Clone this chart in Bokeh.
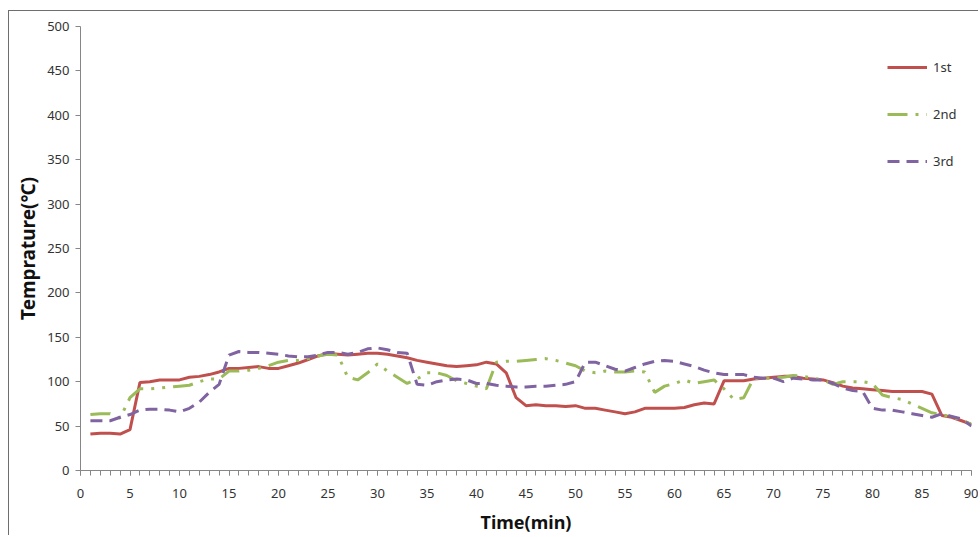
from bokeh.plotting import figure
from bokeh.models import Range1d, SingleIntervalTicker, Legend, LegendItem
from bokeh.embed import file_html
from bokeh.resources import INLINE

time_min = list(range(1, 91))

first = [41, 42, 42, 41, 46, 99, 100, 102, 102, 102,
         105, 106, 108, 111, 115, 115, 116, 117, 115, 115,
         118, 121, 125, 129, 132, 131, 130, 131, 132, 132,
         131, 129, 127, 124, 122, 120, 118, 117, 118, 119,
         122, 120, 110, 82, 73, 74, 73, 73, 72, 73,
         70, 70, 68, 66, 64, 66, 70, 70, 70, 70,
         71, 74, 76, 75, 101, 101, 101, 103, 104, 105,
         106, 106, 104, 103, 102, 99, 95, 93, 92, 91,
         90, 89, 89, 89, 89, 86, 62, 60, 56, 52]

second = [63, 64, 64, 59, 82, 92, 92, 93, 94, 95,
          96, 100, 103, 103, 112, 112, 113, 115, 118, 122,
          124, 124, 126, 129, 131, 130, 105, 102, 110, 120,
          112, 105, 98, 103, 110, 110, 107, 101, 98, 95,
          92, 122, 123, 123, 124, 125, 126, 124, 121, 118,
          112, 110, 112, 111, 111, 112, 111, 88, 95, 98,
          102, 98, 100, 102, 92, 80, 82, 104, 104, 104,
          105, 107, 106, 104, 102, 97, 100, 100, 100, 98,
          85, 82, 80, 75, 70, 65, 63, 60, 57, 52]

third = [56, 56, 56, 60, 63, 68, 69, 69, 68, 66,
         70, 77, 88, 97, 130, 134, 133, 133, 132, 131,
         129, 128, 128, 130, 133, 133, 131, 133, 137, 138,
         136, 133, 132, 97, 96, 100, 102, 103, 102, 98,
         98, 96, 95, 94, 94, 95, 95, 96, 97, 100,
         122, 122, 118, 114, 112, 116, 120, 123, 124, 123,
         120, 117, 113, 110, 108, 108, 108, 105, 104, 104,
         100, 104, 103, 102, 102, 98, 93, 90, 89, 70,
         68, 68, 66, 64, 62, 60, 64, 61, 58, 50]

series_names = ["1st", "2nd", "3rd"]

p = figure(width=970, height=525, output_backend="svg", toolbar_location=None,
           x_range=Range1d(0, 90), y_range=Range1d(0, 500),
           min_border_left=71, min_border_right=8, min_border_top=15,
           min_border_bottom=66)
p.styles = {"border-left": "1px solid #6e6e6e", "border-top": "1px solid #6e6e6e",
            "margin-top": "10px", "margin-left": "8px"}
p.outline_line_color = None
p.xgrid.visible = False
p.ygrid.visible = False
p.background_fill_color = "white"
p.border_fill_color = "white"

font = "Noto Sans"
for ax in (p.xaxis[0], p.yaxis[0]):
    ax.axis_line_color = "#868686"
    ax.major_tick_line_color = "#868686"
    ax.minor_tick_line_color = "#868686"
    ax.major_label_text_font = font
    ax.major_label_text_font_size = "13px"
    ax.major_label_text_color = "#333333"
    ax.axis_label_text_font = font
    ax.axis_label_text_font_style = "bold"
    ax.axis_label_text_color = "#111111"
    ax.major_tick_in = 0
    ax.major_tick_out = 5
    ax.minor_tick_in = 0

p.xaxis.axis_label_text_font_size = "18px"
p.yaxis.axis_label_text_font_size = "19px"
p.xaxis.ticker = SingleIntervalTicker(interval=5, num_minor_ticks=5)
p.xaxis.minor_tick_out = 5
p.yaxis.ticker = SingleIntervalTicker(interval=50, num_minor_ticks=0)
p.yaxis.minor_tick_out = 0
p.xaxis.axis_label = "Time(min)"
p.yaxis.axis_label = "Temprature(℃)"
p.xaxis.major_label_standoff = 13
p.yaxis.major_label_standoff = 6
p.xaxis.axis_label_standoff = 9
p.yaxis.axis_label_standoff = 3

r1 = p.line(time_min, first, line_color="#C0504D", line_width=3)
r2 = p.line(time_min, second, line_color="#9BBB59", line_width=3,
            line_dash="20 8 3 8 3 8")
r3 = p.line(time_min, third, line_color="#8064A2", line_width=3,
            line_dash="12 7")

legend = Legend(items=[LegendItem(label=series_names[0], renderers=[r1]),
                       LegendItem(label=series_names[1], renderers=[r2]),
                       LegendItem(label=series_names[2], renderers=[r3])],
                location=(807, 299), padding=0, margin=0, spacing=27,
                glyph_width=40, glyph_height=20, label_height=20,
                label_standoff=6, label_text_font=font,
                label_text_font_size="13px", label_text_color="#333333",
                border_line_alpha=0, background_fill_alpha=0)
p.add_layout(legend)

open("out.html", "w").write(file_html(p, INLINE))
